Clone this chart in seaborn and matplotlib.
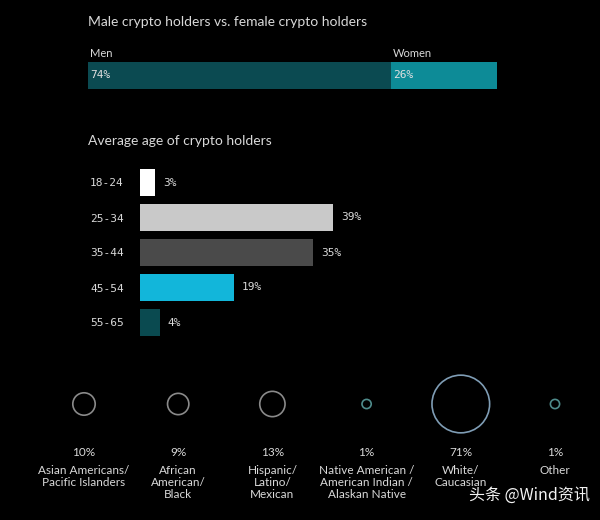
import pandas as pd
import matplotlib
matplotlib.use('Agg')
import matplotlib.pyplot as plt
import seaborn as sns

# ---------------- data ----------------
gender_labels = ['Men', 'Women']
gender_pct = [74, 26]

age_groups = ['18-24', '25-34', '35-44', '45-54', '55-65']
age_pct = [3, 39, 35, 19, 4]

ethnic_groups = ['Asian Americans/\nPacific Islanders', 'African\nAmerican/\nBlack',
                 'Hispanic/\nLatino/\nMexican', 'Native American /\nAmerican Indian /\nAlaskan Native',
                 'White/\nCaucasian', 'Other']
ethnic_pct = [10, 9, 13, 1, 71, 1]

# ---------------- style ----------------
sns.set_theme(style='white')
plt.rcParams['font.family'] = ['Lato', 'DejaVu Sans']
bg = '#000000'
txt = '#d9d9d9'
W, H = 600, 520

fig = plt.figure(figsize=(6, 5.2), dpi=100, facecolor=bg)


def px_axes(left, top, width, height):
    return fig.add_axes([left / W, 1 - (top + height) / H, width / W, height / H])


# ---------------- gender split ----------------
ax1 = px_axes(88, 62, 409, 27)
gender_colors = ['#0b4a51', '#0d8b97']
left = 0
for lab, val, col in zip(gender_labels, gender_pct, gender_colors):
    ax1.barh(0, val, left=left, height=1, color=col, edgecolor='none')
    ax1.text(left + 0.5, 0, f'{val}%', color='#e0e0e0', va='center', ha='left',
             fontsize=8, family='DejaVu Sans Mono')
    ax1.text(left + 0.5, 0.62, lab, color=txt, va='bottom', ha='left', fontsize=8)
    left += val
ax1.set_xlim(0, 100)
ax1.set_ylim(-0.5, 0.5)
ax1.axis('off')
fig.text(88 / W, 1 - 22 / H, 'Male crypto holders vs. female crypto holders',
         color=txt, fontsize=10, va='center', ha='left')

# ---------------- age bars ----------------
ax2 = px_axes(140, 165, 300, 175)
age_df = pd.DataFrame({'age': age_groups, 'pct': age_pct})
age_colors = ['#ffffff', '#c9c9c9', '#4a4a4a', '#12b6da', '#0a4a50']
sns.barplot(data=age_df, x='pct', y='age', hue='age', palette=age_colors,
            legend=False, width=0.78, ax=ax2, saturation=1, edgecolor='none',
            linewidth=0)
for i, v in enumerate(age_pct):
    ax2.text(v + 1.6, i, f'{v}%', color=txt, va='center', ha='left',
             fontsize=8, family='DejaVu Sans Mono')
ax2.set_xlim(0, 300 / 4.95)
ax2.set_facecolor(bg)
ax2.set_xticks([])
ax2.set_xlabel('')
ax2.set_ylabel('')
ax2.tick_params(axis='y', length=0, pad=36, colors=txt, labelsize=8)
for t in ax2.get_yticklabels():
    t.set_family('DejaVu Sans Mono')
    t.set_horizontalalignment('left')
sns.despine(ax=ax2, left=True, bottom=True)
fig.text(88 / W, 1 - 141 / H, 'Average age of crypto holders',
         color=txt, fontsize=10, va='center', ha='left')

# ---------------- ethnicity circles ----------------
ax3 = px_axes(0, 370, 600, 140)
eth_df = pd.DataFrame({'group': ethnic_groups, 'pct': ethnic_pct,
                       'pos': range(len(ethnic_groups)), 'y': 34})
edge_cols = ['#8a8a8a', '#8a8a8a', '#8a8a8a', '#4f8c8c', '#7f9db5', '#4f8c8c']
for i, r in eth_df.iterrows():
    sns.scatterplot(x=[r['pos']], y=[r['y']], s=24 * r['pct'] + 20, facecolors='none',
                    edgecolor=edge_cols[i], linewidth=1.2, ax=ax3, legend=False)
    ax3.text(r['pos'], 83, f"{r['pct']}%", color=txt, fontsize=8.5,
             ha='center', va='center')
    ax3.text(r['pos'], 95, r['group'], color=txt, fontsize=8.5,
             ha='center', va='top', linespacing=1.1)
ax3.set_xlim(-84 / 94.2, (600 - 84) / 94.2)
ax3.set_ylim(140, 0)
ax3.axis('off')

fig.text(590 / W, 1 - 495 / H, '头条 @Wind资讯', color='#f2f2f2', fontsize=11.5,
         ha='right', va='center', family=['Noto Sans CJK SC', 'DejaVu Sans'])

fig.savefig('out.png', dpi=100, facecolor=bg)
